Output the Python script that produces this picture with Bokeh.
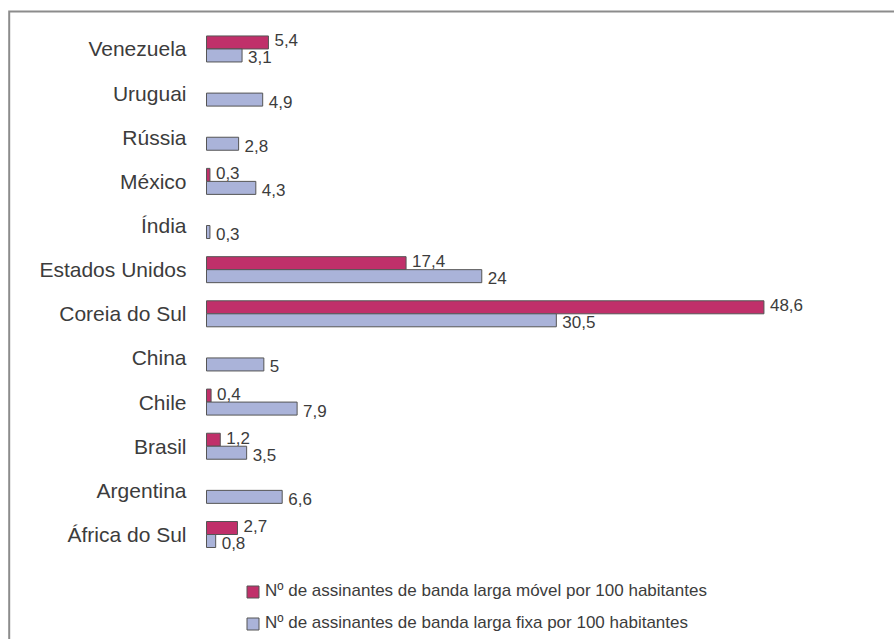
import numpy as np
from bokeh.plotting import figure
from bokeh.models import Range1d, ColumnDataSource, Legend, LegendItem
from bokeh.core.properties import value
from bokeh.embed import file_html
from bokeh.resources import INLINE

# ---- data (bottom to top, as drawn) ----
categories = ["África do Sul", "Argentina", "Brasil", "Chile", "China",
              "Coreia do Sul", "Estados Unidos", "Índia", "México",
              "Rússia", "Uruguai", "Venezuela"]
movel = [2.7, None, 1.2, 0.4, None, 48.6, 17.4, None, 0.3, None, None, 5.4]
fixa = [0.8, 6.6, 3.5, 7.9, 5, 30.5, 24, 0.3, 4.3, 2.8, 4.9, 3.1]
serie_movel = "Nº de assinantes de banda larga móvel por 100 habitantes"
serie_fixa = "Nº de assinantes de banda larga fixa por 100 habitantes"

# ---- styling / layout ----
W, H = 894, 639
PX_X = 11.47          # pixels per unit on x
PX_Y = 44.14          # pixels per category
X0_PX = 206           # canvas x of value 0
Y0_PX = 534           # canvas y of first category
FONT = "Liberation Sans"
TXT = "#3c3c3c"
C_MOVEL = "#C0306A"
C_FIXA = "#AAB3D9"
EDGE = "#555555"

x_start = -X0_PX / PX_X
y_start = -(H - Y0_PX) / PX_Y
x_range = Range1d(x_start, x_start + W / PX_X)
y_range = Range1d(y_start, y_start + H / PX_Y)

half = 6.5 / PX_Y
pos = np.arange(len(categories), dtype=float)

def fmt(v):
    return ("%g" % v).replace(".", ",")

m_idx = [i for i, v in enumerate(movel) if v is not None]
src_m = ColumnDataSource(dict(
    y=[pos[i] + half for i in m_idx],
    v=[movel[i] for i in m_idx],
    lab=[fmt(movel[i]) for i in m_idx]))
src_f = ColumnDataSource(dict(
    y=list(pos - half), v=fixa, lab=[fmt(v) for v in fixa]))
src_c = ColumnDataSource(dict(y=list(pos), name=categories))

p = figure(width=W, height=H, x_range=x_range, y_range=y_range,
           output_backend="svg", toolbar_location=None,
           x_axis_location=None, y_axis_location=None, min_border=0)
p.grid.visible = False
p.outline_line_color = None
p.background_fill_color = "white"
p.border_fill_color = "white"

# frame lines (top and left), joined at the corner
fx = x_start + 8.7 / PX_X
fy = y_range.end - 11.0 / PX_Y
p.line(x=[fx, fx, x_range.end + 1], y=[y_start - 1, fy, fy],
       line_color="#8c8c8c", line_width=2, line_join="miter")

r_m = p.hbar(y="y", left=0, right="v", height=2 * half, source=src_m,
             fill_color=C_MOVEL, line_color=EDGE, line_width=1)
r_f = p.hbar(y="y", left=0, right="v", height=2 * half, source=src_f,
             fill_color=C_FIXA, line_color=EDGE, line_width=1)

p.text(x="v", y="y", text="lab", source=src_m, x_offset=6, y_offset=-2,
       text_align="left", text_baseline="middle", text_font=value(FONT),
       text_font_size="17px", text_color=TXT)
p.text(x="v", y="y", text="lab", source=src_f, x_offset=6, y_offset=2,
       text_align="left", text_baseline="middle", text_font=value(FONT),
       text_font_size="17px", text_color=TXT)
p.text(x=0, y="y", text="name", source=src_c, x_offset=-20,
       text_align="right", text_baseline="middle", text_font=value(FONT),
       text_font_size="21px", text_color=TXT)

legend = Legend(items=[LegendItem(label=serie_movel, renderers=[r_m]),
                       LegendItem(label=serie_fixa, renderers=[r_f])],
                location=(245, 6), orientation="vertical",
                glyph_width=15, glyph_height=15, label_standoff=5,
                spacing=12, padding=0, margin=0, label_height=20,
                border_line_color=None, background_fill_alpha=0,
                label_text_font=FONT, label_text_font_size="17px",
                label_text_color=TXT)
p.add_layout(legend)

open("out.html", "w").write(file_html(p, INLINE))
